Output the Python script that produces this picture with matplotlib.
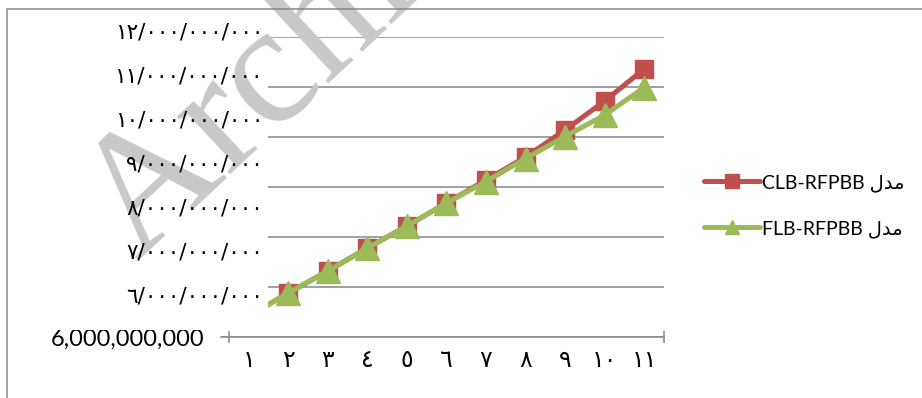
import matplotlib
matplotlib.use("Agg")
import matplotlib.pyplot as plt
from matplotlib.patches import Rectangle

# data
categories = list(range(1, 12))
clb_values = [6.42e9, 6.88e9, 7.32e9, 7.78e9, 8.22e9, 8.68e9, 9.14e9, 9.60e9, 10.14e9, 10.72e9, 11.36e9]
flb_values = [6.42e9, 6.88e9, 7.32e9, 7.78e9, 8.22e9, 8.68e9, 9.11e9, 9.57e9, 10.01e9, 10.44e9, 10.99e9]
y_ticks = [6e9, 7e9, 8e9, 9e9, 10e9, 11e9, 12e9]
series_names = ["CLB-RFPBB", "FLB-RFPBB"]

AR_DIGITS = str.maketrans("0123456789", "٠١٢٣٤٥٦٧٨٩")
# "model" in Persian, pre-shaped in visual order (matplotlib does no Arabic shaping)
MODEL = "\ufedd\ufeaa\ufee3"

def ar(n):
    return str(n).translate(AR_DIGITS)

def ar_big(v):
    return "{:,}".format(int(v)).replace(",", "/").translate(AR_DIGITS)

W, H = 922, 398
fig = plt.figure(figsize=(W / 100, H / 100), dpi=100)

def fx(px):
    return px / W

def fy(py):
    return 1 - py / H

ax = fig.add_axes([fx(221), fy(337), fx(664) - fx(221), fy(37) - fy(337)])

red = "#C0504D"
green = "#9BBB59"
grey = "#868686"

ax.plot(categories, clb_values, color=red, lw=3.6, marker="s", ms=13.5,
        solid_capstyle="round", label=series_names[0] + " " + MODEL, zorder=3)
ax.plot(categories, flb_values, color=green, lw=3.6, marker="^", ms=17,
        solid_capstyle="round", label=series_names[1] + " " + MODEL, zorder=4)

ax.set_xlim(0.3, 11.5)
ax.set_ylim(6e9, 12e9)
ax.set_yticks(y_ticks)
ax.set_yticklabels(["6,000,000,000"] + [""] * (len(y_ticks) - 1),
                   fontfamily="Lato", fontsize=17)
ax.tick_params(axis="y", length=0, pad=12)
ax.yaxis.grid(True, color=grey, lw=1.1)
ax.set_axisbelow(True)

ax.set_xticks(categories)
ax.set_xticklabels([ar(c) for c in categories], fontfamily="DejaVu Sans", fontsize=17)
ax.tick_params(axis="x", which="major", length=0, pad=8)
ax.set_xticks([0.5, 11.5], minor=True)
ax.tick_params(axis="x", which="minor", length=9, direction="inout", color=grey, width=1.1)

for s in ["left", "top", "right"]:
    ax.spines[s].set_visible(False)
ax.spines["bottom"].set_color(grey)
ax.spines["bottom"].set_linewidth(1.1)

leg = ax.legend(loc="center left", bbox_to_anchor=(fx(686), fy(206)),
                bbox_transform=fig.transFigure, frameon=False,
                prop={"family": ["Lato", "DejaVu Sans"], "size": 14},
                handlelength=2.9, handletextpad=0.1, labelspacing=1.45)
for h in leg.legend_handles:
    h.set_markersize(10)

# white text box in the original covering the left of the plot
fig.patches.append(Rectangle((fx(15), fy(330)), fx(268) - fx(15), fy(12) - fy(330),
                             transform=fig.transFigure, facecolor="white",
                             edgecolor="none", zorder=1))

# watermark
fig.text(fx(138), fy(262), "Archive of SID", fontfamily="Liberation Serif",
         fontsize=124, color="#c8c8c8", rotation=43, rotation_mode="anchor",
         ha="left", va="baseline", zorder=2)

# persian value labels (spaced as in the original text box)
for i, v in enumerate(y_ticks):
    fig.text(fx(263), fy(297 - 44 * i), ar_big(v), fontfamily="DejaVu Sans",
             fontsize=15.5, ha="right", va="center", zorder=3)

# outer chart border
fig.patches.append(Rectangle((fx(7), fy(H + 20)), 1.2, fy(9) - fy(H + 20),
                             transform=fig.transFigure, facecolor="none",
                             edgecolor="#888888", lw=1.1, zorder=4))

fig.savefig("out.png", dpi=100)
